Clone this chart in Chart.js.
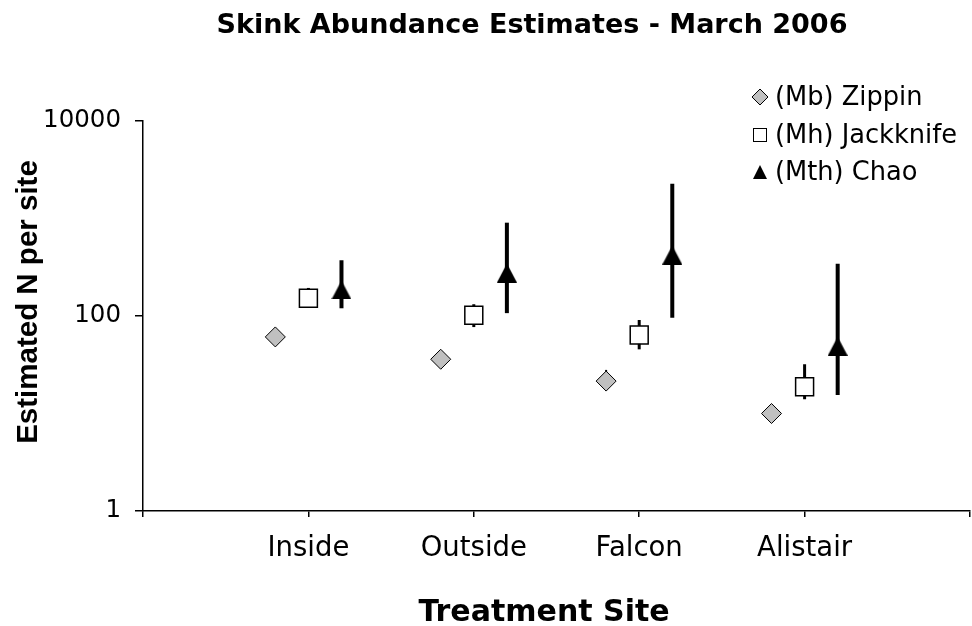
<!DOCTYPE html>
<html>
<head>
<meta charset="utf-8">
<script src="https://cdn.jsdelivr.net/npm/chart.js@4.4.1/dist/chart.umd.min.js"></script>
<style>
  html, body { margin: 0; padding: 0; background: #fff; }
  #wrap { width: 972px; height: 626px; }
</style>
</head>
<body>
<div id="wrap"><canvas id="skinkChart" width="972" height="626"></canvas></div>
<script>
// data
const sites = ['Inside', 'Outside', 'Falcon', 'Alistair'];
const yTicks = [1, 100, 10000];

const zippin = [61, 36, 21.5, 10];
const zippinLo = [56, 33, 19, 9];
const zippinHi = [66, 40, 28, 11];

const jackknife = [152, 102, 64, 18.8];
const jackknifeLo = [125, 77, 45.5, 14];
const jackknifeHi = [194, 132, 91, 32];

const chao = [185, 276, 422, 49];
const chaoLo = [120, 107, 96, 15.5];
const chaoHi = [373, 906, 2275, 344];

// black triangle marker, centred on its box like the excel one
function triangleMarker(w, h) {
  const c = document.createElement('canvas');
  c.width = w; c.height = h;
  const g = c.getContext('2d');
  g.fillStyle = '#000';
  g.beginPath();
  g.moveTo(w / 2, 0);
  g.lineTo(w, h);
  g.lineTo(0, h);
  g.closePath();
  g.fill();
  return c;
}
const triBig = triangleMarker(20, 19);
const triSmall = triangleMarker(14, 14);

function points(vals, lo, hi, shift) {
  return vals.map((v, i) => ({ x: i + 1 + shift, y: v, lo: lo[i], hi: hi[i] }));
}

// vertical error bars, drawn under the markers
const errorBars = {
  id: 'errorBars',
  beforeDatasetsDraw(chart) {
    const ctx = chart.ctx;
    const xs = chart.scales.x, ys = chart.scales.y;
    chart.data.datasets.forEach(ds => {
      ctx.save();
      ctx.strokeStyle = '#000';
      ctx.lineWidth = ds.errWidth;
      ds.data.forEach(p => {
        const x = xs.getPixelForValue(p.x);
        ctx.beginPath();
        ctx.moveTo(x, ys.getPixelForValue(p.lo));
        ctx.lineTo(x, ys.getPixelForValue(p.hi));
        ctx.stroke();
      });
      ctx.restore();
    });
  }
};

// titles and legend placed like the original
const decorations = {
  id: 'decorations',
  afterDraw(chart) {
    const ctx = chart.ctx;
    ctx.save();
    ctx.fillStyle = '#000';
    ctx.textAlign = 'center';
    ctx.textBaseline = 'alphabetic';
    ctx.font = 'bold 27px "DejaVu Sans"';
    ctx.fillText('Skink Abundance Estimates - March 2006', 532, 33);

    ctx.font = 'bold 30px "DejaVu Sans"';
    ctx.fillText('Treatment Site', 544, 621);

    ctx.save();
    ctx.translate(37, 302);
    ctx.rotate(-Math.PI / 2);
    ctx.font = 'bold 29.5px "Liberation Sans"';
    ctx.fillText('Estimated N per site', 0, 0);
    ctx.restore();

    const lx = 760, rows = [97, 135, 172];
    ctx.font = '25.7px "DejaVu Sans"';
    ctx.textAlign = 'left';
    ctx.textBaseline = 'middle';
    chart.data.datasets.forEach((ds, i) => {
      const y = rows[i];
      ctx.lineWidth = 1;
      ctx.strokeStyle = '#000';
      if (i === 0) {
        ctx.fillStyle = '#c0c0c0';
        ctx.beginPath();
        ctx.moveTo(lx, y - 8); ctx.lineTo(lx + 8, y); ctx.lineTo(lx, y + 8); ctx.lineTo(lx - 8, y);
        ctx.closePath(); ctx.fill(); ctx.stroke();
      } else if (i === 1) {
        ctx.fillStyle = '#fff';
        ctx.fillRect(lx - 6.5, y - 6.5, 13, 13);
        ctx.strokeRect(lx - 6.5, y - 6.5, 13, 13);
      } else {
        ctx.drawImage(triSmall, lx - 7, y - 7);
      }
      ctx.fillStyle = '#000';
      ctx.fillText(ds.label, lx + 15, y + 1);
    });
    ctx.restore();
  }
};

new Chart(document.getElementById('skinkChart'), {
  type: 'scatter',
  data: {
    datasets: [
      {
        label: '(Mb) Zippin',
        data: points(zippin, zippinLo, zippinHi, -0.2),
        pointStyle: 'rectRot',
        pointRadius: 10,
        backgroundColor: '#c0c0c0',
        borderColor: '#000',
        borderWidth: 1,
        errWidth: 2
      },
      {
        label: '(Mh) Jackknife',
        data: points(jackknife, jackknifeLo, jackknifeHi, 0),
        pointStyle: 'rect',
        pointRadius: 12.7,
        backgroundColor: '#fff',
        borderColor: '#000',
        borderWidth: 1.5,
        errWidth: 3
      },
      {
        label: '(Mth) Chao',
        data: points(chao, chaoLo, chaoHi, 0.2),
        pointStyle: triBig,
        backgroundColor: '#000',
        borderColor: '#000',
        errWidth: 4
      }
    ]
  },
  options: {
    responsive: false,
    animation: false,
    layout: { autoPadding: false, padding: { top: 121, right: 2, left: 0, bottom: 0 } },
    plugins: {
      legend: { display: false },
      tooltip: { enabled: false },
      title: { display: false }
    },
    scales: {
      x: {
        type: 'linear',
        min: 0,
        max: 5,
        afterBuildTicks: s => { s.ticks = [0, 1, 2, 3, 4, 5].map(v => ({ value: v })); },
        afterFit: s => { s.height = 115; s.paddingLeft = 0; s.paddingRight = 0; },
        border: { color: '#000', width: 1.5 },
        grid: { drawOnChartArea: false, color: '#000', tickLength: 6, lineWidth: 1.5 },
        ticks: {
          color: '#000',
          padding: 15,
          maxRotation: 0,
          autoSkip: false,
          font: { family: 'DejaVu Sans', size: 27.5 },
          callback: v => sites[v - 1] || ''
        }
      },
      y: {
        type: 'logarithmic',
        min: 1,
        max: 10000,
        afterBuildTicks: s => { s.ticks = yTicks.map(v => ({ value: v })); },
        afterFit: s => { s.width = 143; },
        border: { color: '#000', width: 1.5 },
        grid: { drawOnChartArea: false, color: '#000', tickLength: 8, lineWidth: 1.5 },
        ticks: {
          color: '#000',
          padding: 14,
          font: { family: 'DejaVu Sans', size: 24.5 },
          callback: v => String(v)
        }
      }
    }
  },
  plugins: [errorBars, decorations]
});
</script>
</body>
</html>
